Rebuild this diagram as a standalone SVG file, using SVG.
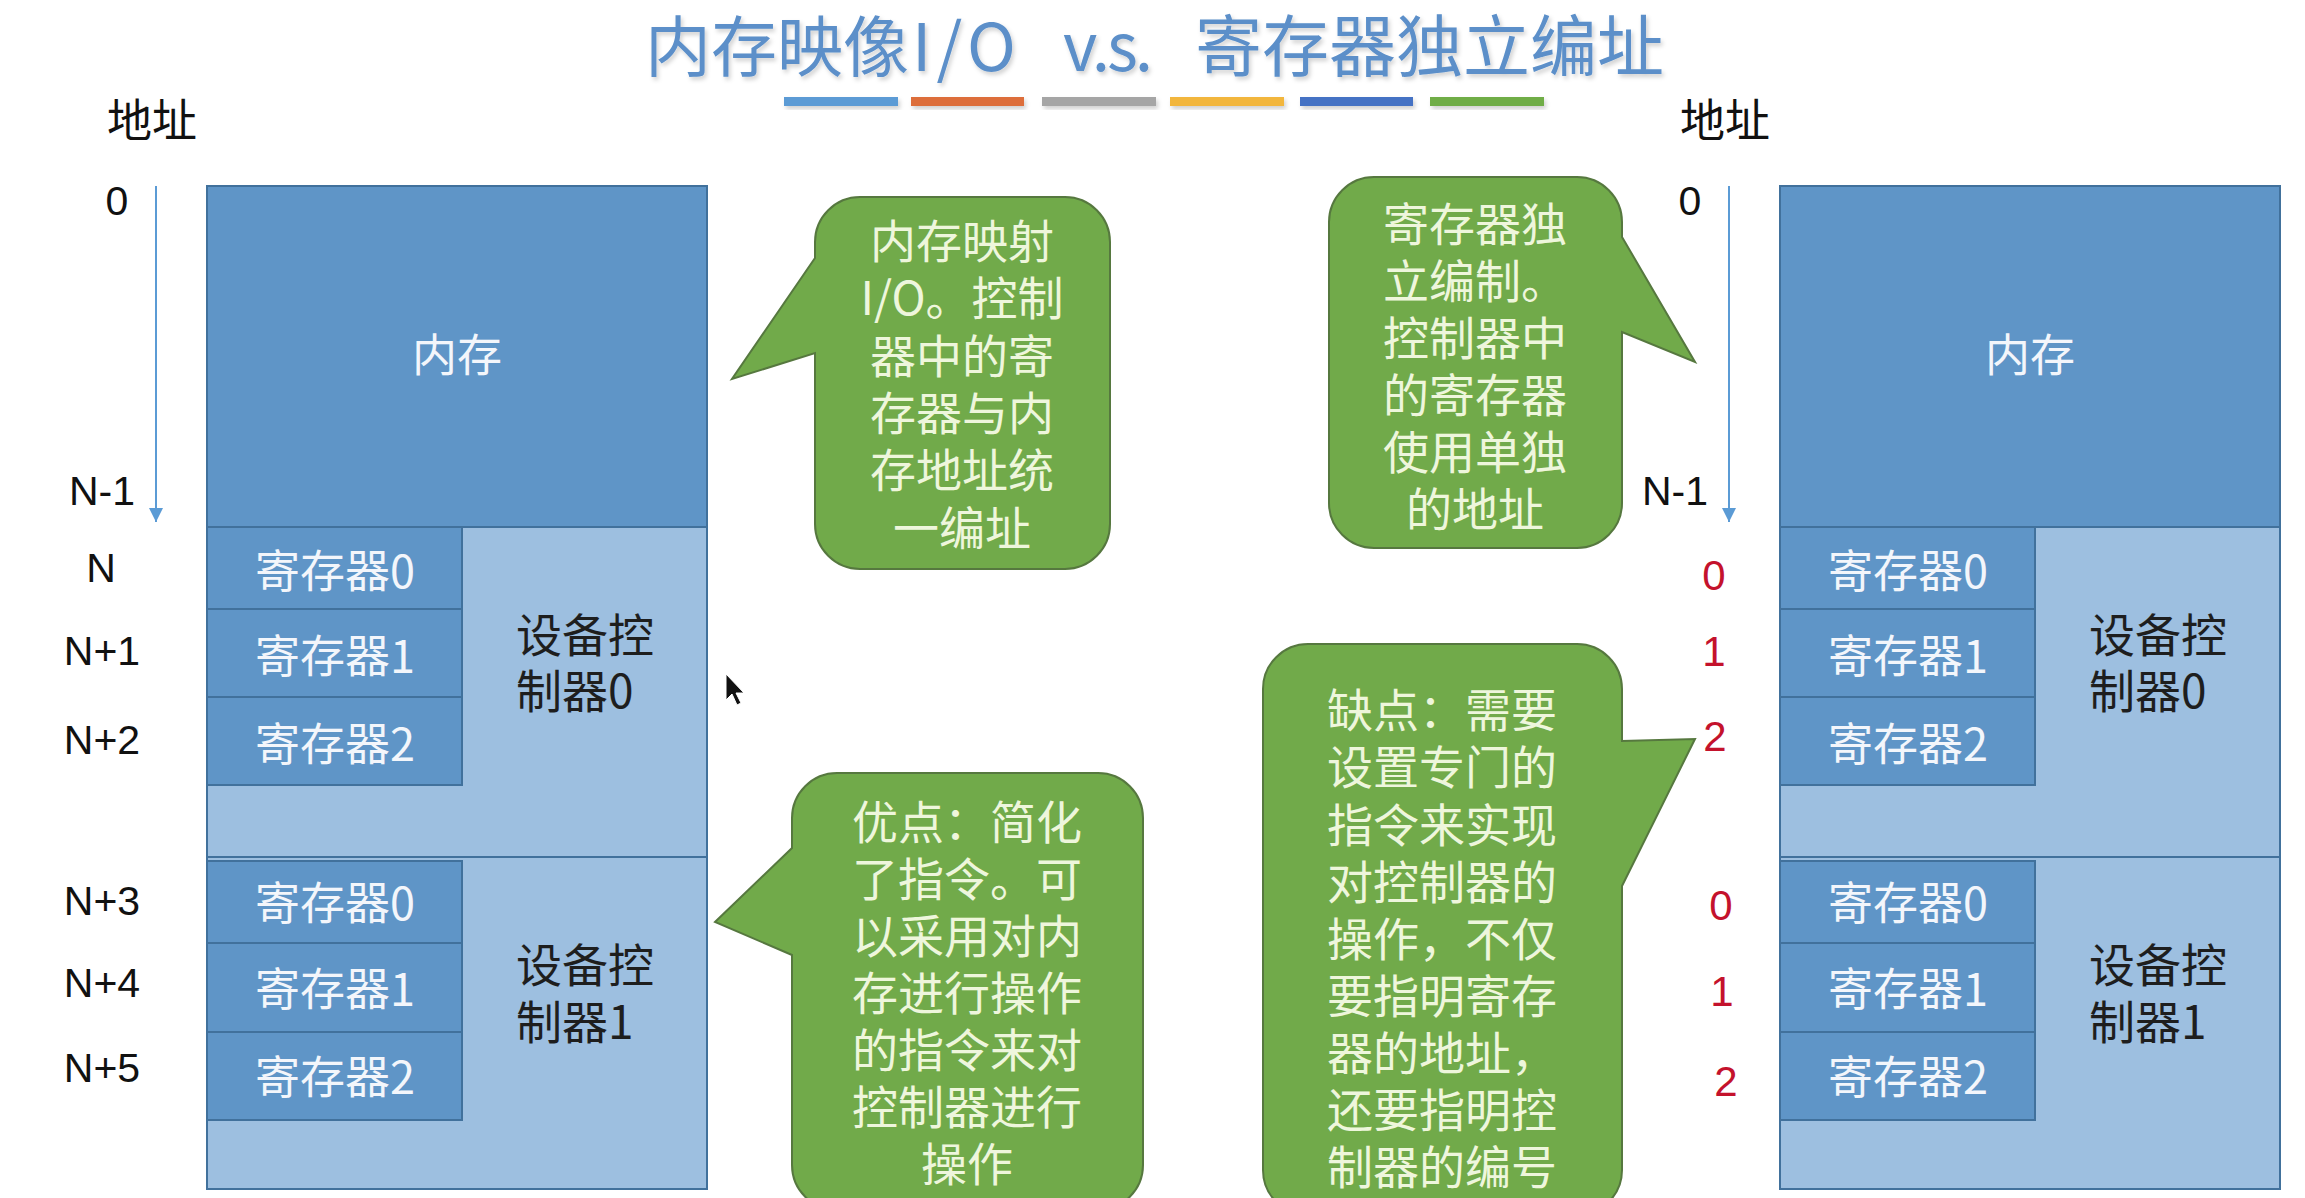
<svg xmlns="http://www.w3.org/2000/svg" width="2305" height="1198" viewBox="0 0 2305 1198">
<style>
.mem{fill:#5f95c7;stroke:#41719c;stroke-width:2}
.ctl{fill:#9dbfe0;stroke:#41719c;stroke-width:2}
.wt{font-family:"Noto Sans CJK SC",sans-serif;font-size:45px;fill:#f3f6fb;text-anchor:middle}
.dk{font-family:"Noto Sans CJK SC",sans-serif;font-size:46px;fill:#1e1e1e}
.num{font-family:"Liberation Sans","Noto Sans CJK SC",sans-serif;font-size:41px;fill:#111;text-anchor:middle}
.red{font-family:"Liberation Sans","Noto Sans CJK SC",sans-serif;font-size:42px;fill:#c4122c;text-anchor:middle}
.lbl{font-family:"Noto Sans CJK SC",sans-serif;font-size:45px;fill:#111}
.call{fill:#71aa4a;stroke:#56783f;stroke-width:2}
.ct{font-family:"Noto Sans CJK SC",sans-serif;font-size:46px;fill:#eef6dc;text-anchor:middle}
.ttl{font-family:"Noto Sans CJK SC",sans-serif;font-size:66px;fill:#5b8fc9}
.axis{stroke:#5b9bd5;stroke-width:2;fill:none}
</style>
<defs>
<marker id="arr" markerWidth="16" markerHeight="16" refX="14" refY="7" orient="auto" markerUnits="userSpaceOnUse">
<path d="M0,0 L14,7 L0,14 Z" fill="#5b9bd5"/>
</marker>
<filter id="sh" x="-5%" y="-20%" width="110%" height="160%">
<feDropShadow dx="2" dy="3" stdDeviation="2" flood-color="#000" flood-opacity="0.18"/>
</filter>
</defs>
<rect width="2305" height="1198" fill="#ffffff"/>

<g id="title" filter="url(#sh)">
<text class="ttl" x="645" y="71">内存映像</text>
<text class="ttl" x="912" y="71" textLength="104" lengthAdjust="spacing">I/O</text>
<text class="ttl" x="1063" y="71" textLength="90" lengthAdjust="spacing">v.s.</text>
<text class="ttl" x="1195" y="71" style="font-size:67px">寄存器独立编址</text>
</g>
<g id="color-bars" filter="url(#sh)">
<rect x="784" y="97" width="114" height="9" fill="#5b9bd5"/>
<rect x="911" y="97" width="113" height="9" fill="#dd6e3a"/>
<rect x="1042" y="97" width="114" height="9" fill="#a5a5a5"/>
<rect x="1170" y="97" width="114" height="9" fill="#f2b63c"/>
<rect x="1300" y="97" width="113" height="9" fill="#4472c4"/>
<rect x="1430" y="97" width="114" height="9" fill="#70ad47"/>
</g>

<!-- Left panel: memory-mapped I/O -->
<g id="left-addr-labels">
<text class="lbl" x="107" y="137">地址</text>
<text class="num" x="117" y="215">0</text>
<text class="num" x="102" y="505">N-1</text>
<text class="num" x="101" y="582">N</text>
<text class="num" x="102" y="665">N+1</text>
<text class="num" x="102" y="754">N+2</text>
<text class="num" x="102" y="915">N+3</text>
<text class="num" x="102" y="997">N+4</text>
<text class="num" x="102" y="1082">N+5</text>
</g>
<g id="left-memory">
<rect class="mem" x="207" y="186" width="500" height="341"/>
<text class="wt" x="457" y="372">内存</text>
</g>
<g id="left-controller0">
<rect class="ctl" x="207" y="527" width="500" height="330"/>
<text class="dk" x="516" y="652">设备控</text>
<text class="dk" x="516" y="708">制器0</text>
</g>
<g id="left-c0-reg0"><rect class="mem" x="207" y="527" width="255" height="82"/><text class="wt" x="335" y="588">寄存器0</text></g>
<g id="left-c0-reg1"><rect class="mem" x="207" y="609" width="255" height="88"/><text class="wt" x="335" y="673">寄存器1</text></g>
<g id="left-c0-reg2"><rect class="mem" x="207" y="697" width="255" height="88"/><text class="wt" x="335" y="761">寄存器2</text></g>
<g id="left-controller1">
<rect class="ctl" x="207" y="857" width="500" height="332"/>
<text class="dk" x="516" y="982">设备控</text>
<text class="dk" x="516" y="1039">制器1</text>
</g>
<g id="left-c1-reg0"><rect class="mem" x="207" y="861" width="255" height="82"/><text class="wt" x="335" y="920">寄存器0</text></g>
<g id="left-c1-reg1"><rect class="mem" x="207" y="943" width="255" height="89"/><text class="wt" x="335" y="1006">寄存器1</text></g>
<g id="left-c1-reg2"><rect class="mem" x="207" y="1032" width="255" height="88"/><text class="wt" x="335" y="1094">寄存器2</text></g>

<!-- Right panel: independent register addressing -->
<g id="right-addr-labels">
<text class="lbl" x="1680" y="137">地址</text>
<text class="num" x="1690" y="215">0</text>
<text class="num" x="1675" y="505">N-1</text>
<text class="red" x="1714" y="590">0</text>
<text class="red" x="1714" y="666">1</text>
<text class="red" x="1715" y="751">2</text>
<text class="red" x="1721" y="920">0</text>
<text class="red" x="1722" y="1006">1</text>
<text class="red" x="1726" y="1096">2</text>
</g>
<g id="right-memory">
<rect class="mem" x="1780" y="186" width="500" height="341"/>
<text class="wt" x="2030" y="372">内存</text>
</g>
<g id="right-controller0">
<rect class="ctl" x="1780" y="527" width="500" height="330"/>
<text class="dk" x="2089" y="652">设备控</text>
<text class="dk" x="2089" y="708">制器0</text>
</g>
<g id="right-c0-reg0"><rect class="mem" x="1780" y="527" width="255" height="82"/><text class="wt" x="1908" y="588">寄存器0</text></g>
<g id="right-c0-reg1"><rect class="mem" x="1780" y="609" width="255" height="88"/><text class="wt" x="1908" y="673">寄存器1</text></g>
<g id="right-c0-reg2"><rect class="mem" x="1780" y="697" width="255" height="88"/><text class="wt" x="1908" y="761">寄存器2</text></g>
<g id="right-controller1">
<rect class="ctl" x="1780" y="857" width="500" height="332"/>
<text class="dk" x="2089" y="982">设备控</text>
<text class="dk" x="2089" y="1039">制器1</text>
</g>
<g id="right-c1-reg0"><rect class="mem" x="1780" y="861" width="255" height="82"/><text class="wt" x="1908" y="920">寄存器0</text></g>
<g id="right-c1-reg1"><rect class="mem" x="1780" y="943" width="255" height="89"/><text class="wt" x="1908" y="1006">寄存器1</text></g>
<g id="right-c1-reg2"><rect class="mem" x="1780" y="1032" width="255" height="88"/><text class="wt" x="1908" y="1094">寄存器2</text></g>

<!-- Callouts -->
<g id="callout-mmio">
<path class="call" d="M860 197 H1065 A45 45 0 0 1 1110 242 V524 A45 45 0 0 1 1065 569 H860 A45 45 0 0 1 815 524 V353 L732 379 L815 258 V242 A45 45 0 0 1 860 197 Z"/>
<text class="ct" x="962" y="258">内存映射</text>
<text class="ct" x="962" y="315">I/O。控制</text>
<text class="ct" x="962" y="373">器中的寄</text>
<text class="ct" x="962" y="430">存器与内</text>
<text class="ct" x="962" y="487">存地址统</text>
<text class="ct" x="962" y="545">一编址</text>
</g>
<g id="callout-pros">
<path class="call" d="M837 773 H1098 A45 45 0 0 1 1143 818 V1165 A45 45 0 0 1 1098 1210 H837 A45 45 0 0 1 792 1165 V955 L715 922 L792 848 V818 A45 45 0 0 1 837 773 Z"/>
<text class="ct" x="967" y="839">优点：简化</text>
<text class="ct" x="967" y="896">了指令。可</text>
<text class="ct" x="967" y="953">以采用对内</text>
<text class="ct" x="967" y="1010">存进行操作</text>
<text class="ct" x="967" y="1067">的指令来对</text>
<text class="ct" x="967" y="1124">控制器进行</text>
<text class="ct" x="967" y="1181">操作</text>
</g>
<g id="callout-indep">
<path class="call" d="M1374 177 H1577 A45 45 0 0 1 1622 222 V237 L1695 362 L1622 332 V503 A45 45 0 0 1 1577 548 H1374 A45 45 0 0 1 1329 503 V222 A45 45 0 0 1 1374 177 Z"/>
<text class="ct" x="1475" y="241">寄存器独</text>
<text class="ct" x="1475" y="298">立编制。</text>
<text class="ct" x="1475" y="355">控制器中</text>
<text class="ct" x="1475" y="412">的寄存器</text>
<text class="ct" x="1475" y="469">使用单独</text>
<text class="ct" x="1475" y="526">的地址</text>
</g>
<g id="callout-cons">
<path class="call" d="M1308 644 H1577 A45 45 0 0 1 1622 689 V741 L1695 739 L1622 886 V1170 A45 45 0 0 1 1577 1215 H1308 A45 45 0 0 1 1263 1170 V689 A45 45 0 0 1 1308 644 Z"/>
<text class="ct" x="1442" y="727">缺点：需要</text>
<text class="ct" x="1442" y="784">设置专门的</text>
<text class="ct" x="1442" y="842">指令来实现</text>
<text class="ct" x="1442" y="899">对控制器的</text>
<text class="ct" x="1442" y="956">操作，不仅</text>
<text class="ct" x="1442" y="1013">要指明寄存</text>
<text class="ct" x="1442" y="1070">器的地址，</text>
<text class="ct" x="1442" y="1127">还要指明控</text>
<text class="ct" x="1442" y="1184">制器的编号</text>
</g>

<g id="connectors">
<line class="axis" x1="156" y1="186" x2="156" y2="522" marker-end="url(#arr)"/>
<line class="axis" x1="1729" y1="186" x2="1729" y2="522" marker-end="url(#arr)"/>
</g>

<g id="cursor">
<path d="M726 674 L726 700 L732 694 L737 705 L741 703 L736 693 L744 693 Z" fill="#111" stroke="#fff" stroke-width="1"/>
</g>
</svg>
